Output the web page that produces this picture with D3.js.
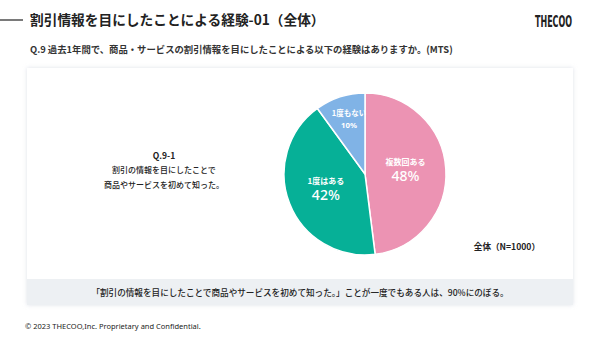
<!DOCTYPE html>
<html><head><meta charset="utf-8">
<script src="https://cdn.jsdelivr.net/npm/d3@7/dist/d3.min.js"></script>
<style>
html,body{margin:0;padding:0;background:#fff;}
svg{display:block;font-family:"Noto Sans CJK JP","Noto Sans",sans-serif;}
</style></head>
<body>
<svg id="c" width="600" height="338"></svg>
<script>
// Survey answers (share of respondents, %)
const categories = ["複数回ある", "1度はある", "1度もない"];
const values = [48, 42, 10];

const svg = d3.select("#c");
const defs = svg.append("defs");
const f = defs.append("filter").attr("id", "sh").attr("x", "-5%").attr("y", "-5%").attr("width", "110%").attr("height", "110%");
f.append("feDropShadow").attr("dx", 0).attr("dy", 0).attr("stdDeviation", 2).attr("flood-color", "#c8cdd8").attr("flood-opacity", 0.6);

// Header
svg.append("line").attr("x1", 0).attr("x2", 23).attr("y1", 20).attr("y2", 20).attr("stroke", "#222").attr("stroke-width", 1.2);
svg.append("text").attr("x", 30).attr("y", 25).attr("font-size", 13.7).attr("font-weight", 700).attr("fill", "#222")
  .text("割引情報を目にしたことによる経験-01（全体）");
// Condensed wordmark
svg.append("text").attr("transform", "translate(572,27) scale(1,1.25)").attr("text-anchor", "end").attr("font-size", 12.5).attr("font-weight", 700)
  .attr("fill", "#222").attr("font-family", "'DejaVu Sans Condensed','Liberation Sans',sans-serif")
  .attr("textLength", 37).attr("lengthAdjust", "spacingAndGlyphs").text("THECOO");
svg.append("text").attr("x", 30).attr("y", 53).attr("font-size", 9.35).attr("font-weight", 700).attr("fill", "#333")
  .text("Q.9 過去1年間で、商品・サービスの割引情報を目にしたことによる以下の経験はありますか。(MTS)");

// Panel
svg.append("rect").attr("x", 27).attr("y", 68).attr("width", 546).attr("height", 237).attr("fill", "#fff").attr("filter", "url(#sh)");
svg.append("rect").attr("x", 27).attr("y", 279).attr("width", 546).attr("height", 26).attr("fill", "#edf0f3");
svg.append("text").attr("x", 300).attr("y", 296).attr("text-anchor", "middle").attr("font-size", 8.6).attr("font-weight", 500).attr("fill", "#222")
  .text("「割引の情報を目にしたことで商品やサービスを初めて知った。」ことが一度でもある人は、90%にのぼる。");

// Left caption
const cap = svg.append("g").attr("text-anchor", "middle").attr("fill", "#222").attr("font-weight", 700);
cap.append("text").attr("x", 164).attr("y", 159).attr("font-size", 8.5).text("Q.9-1");
cap.append("text").attr("x", 164).attr("y", 173).attr("font-size", 8).attr("font-weight", 500).text("割引の情報を目にしたことで");
cap.append("text").attr("x", 164).attr("y", 188).attr("font-size", 8).attr("font-weight", 500).text("商品やサービスを初めて知った。");

svg.append("text").attr("x", 540).attr("y", 250).attr("text-anchor", "end").attr("font-size", 8.6).attr("font-weight", 700).attr("fill", "#222")
  .text("全体（N=1000）");

// Pie
const cx = 365, cy = 174, r = 81;
const color = d3.scaleOrdinal().domain(categories).range(["#ec93b3", "#06b097", "#80b3e6"]);
const pie = d3.pie().sort(null).value(d => d.v);
const data = categories.map((c, i) => ({ c, v: values[i] }));
const arcs = pie(data);
const arc = d3.arc().innerRadius(0).outerRadius(r);
const g = svg.append("g").attr("transform", `translate(${cx},${cy})`);
g.selectAll("path").data(arcs).join("path")
  .attr("d", arc).attr("fill", d => color(d.data.c))
  .attr("stroke", "#fff").attr("stroke-width", 1.5).attr("stroke-linejoin", "round");

const labelR = [0.5, 0.52, 0.72];
arcs.forEach((a, i) => {
  const lr = r * labelR[i];
  const [lx, ly] = d3.arc().innerRadius(lr).outerRadius(lr).centroid(a);
  const big = a.data.v >= 20;
  const t = g.append("g").attr("transform", `translate(${lx + (big ? 0 : 2)},${ly})`).attr("fill", "#fff").attr("text-anchor", "middle").attr("font-weight", 700);
  t.append("text").attr("y", big ? -6 : -3).attr("font-size", big ? 8 : 7.5).text(a.data.c);
  t.append("text").attr("y", big ? 10 : 9).attr("font-size", big ? 14 : 7.8)
    .attr("font-family", "'Noto Sans',sans-serif").attr("font-weight", big ? 500 : 700).text(a.data.v + "%");
});

// Footer
svg.append("text").attr("x", 25).attr("y", 329).attr("font-size", 7.5).attr("fill", "#222")
  .attr("font-family", "'Noto Sans',sans-serif").text("© 2023 THECOO,Inc. Proprietary and Confidential.");
</script>
</body></html>
